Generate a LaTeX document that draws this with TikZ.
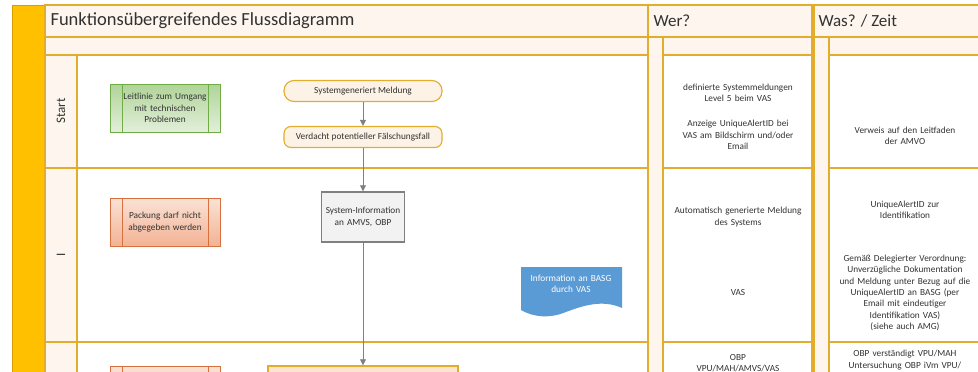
\documentclass[tikz,border=0pt]{standalone}
\usepackage{fontspec}
\setmainfont{Carlito}
\usetikzlibrary{arrows.meta, positioning, calc}
\definecolor{lanegold}{RGB}{226,172,44}
\definecolor{bandgold}{RGB}{255,192,0}
\definecolor{banddark}{RGB}{214,160,0}
\definecolor{lanecream}{RGB}{253,245,238}
\definecolor{termfill}{RGB}{253,242,230}
\definecolor{flowgray}{RGB}{128,128,128}
\definecolor{greenline}{RGB}{112,173,71}
\definecolor{greentop}{RGB}{176,212,152}
\definecolor{greenbot}{RGB}{226,239,218}
\definecolor{redline}{RGB}{214,112,62}
\definecolor{redtop}{RGB}{250,226,214}
\definecolor{redbot}{RGB}{243,178,148}
\definecolor{docblue}{RGB}{91,155,213}
\definecolor{textgray}{RGB}{50,50,50}
\definecolor{obpfill}{RGB}{252,228,208}

\tikzset{
  lanecell/.style={draw=lanegold, line width=1.1pt},
  creamcell/.style={lanecell, fill=lanecream},
  headtext/.style={anchor=west, text=textgray, font=\fontsize{17}{20}\selectfont},
  smalltext/.style={font=\fontsize{9.3}{11.3}\selectfont, text=textgray, align=center},
  celltext/.style={smalltext, text width=150pt},
  subproc/.style={smalltext, draw=#1, line width=1pt, minimum width=110pt,
    minimum height=48pt, text width=87pt, inner sep=0pt,
    path picture={\draw[#1, line width=1pt]
      ([xshift=12pt]path picture bounding box.north west) -- ([xshift=12pt]path picture bounding box.south west)
      ([xshift=-12pt]path picture bounding box.north east) -- ([xshift=-12pt]path picture bounding box.south east);}},
  greenproc/.style={subproc=greenline, top color=greentop, bottom color=greenbot},
  redproc/.style={subproc=redline, top color=redtop, bottom color=redbot},
  terminal/.style={smalltext, draw=lanegold, fill=termfill, line width=1.1pt,
    minimum width=158pt, minimum height=21pt, inner sep=0pt},
  infobox/.style={smalltext, draw=flowgray, fill=gray!10, line width=1.4pt,
    minimum width=83pt, minimum height=50pt, text width=80pt, inner sep=0pt},
  flowarrow/.style={draw=flowgray, line width=0.8pt, -{Triangle[width=6pt,length=6pt]}}
}

\begin{document}
\begin{tikzpicture}[x=1pt, y=-1pt]
\useasboundingbox (0,0) rectangle (978,372);
\clip (0,0) rectangle (978,372);

% swimlane frame
\draw[fill=bandgold, draw=banddark, line width=1pt] (12,5) rectangle (45,390);
\draw[creamcell] (45,5) rectangle (648,37);
\draw[creamcell] (45,37) rectangle (648,55);
\foreach \ya/\yb in {55/168, 168/342, 342/390} {
  \draw[creamcell] (45,\ya) rectangle (77,\yb);
  \draw[lanecell] (77,\ya) rectangle (648,\yb);
}

% Wer? and Was? columns
\foreach \xa/\xs/\xb in {648/663/812, 814/829/990} {
  \draw[creamcell] (\xa,5) rectangle (\xb,37);
  \draw[creamcell] (\xa,37) rectangle (\xs,390);
  \draw[creamcell] (\xs,37) rectangle (\xb,55);
  \foreach \ya/\yb in {55/168, 168/342, 342/390}
    \draw[lanecell] (\xs,\ya) rectangle (\xb,\yb);
}

\node[headtext, font=\fontsize{18.5}{21}\selectfont] (title) at (47,21) {Funktionsübergreifendes Flussdiagramm};
\node[headtext] (wer) at (650,21) {Wer?};
\node[headtext] (was) at (815,21) {Was? / Zeit};
\node[smalltext, font=\fontsize{13}{15}\selectfont, rotate=90] (lanestart) at (61,111) {Start};
\node[smalltext, font=\fontsize{13}{15}\selectfont, rotate=90] (laneone) at (61,255) {I};

% flow
\node[greenproc] (leitlinie) at (165,108) {Leitlinie zum Umgang\\mit technischen\\Problemen};
\node[terminal, rounded corners=10pt] (meldung) at (363,91) {Systemgeneriert Meldung};
\node[terminal, rounded corners=7pt] (verdacht) at (363,137) {Verdacht potentieller Fälschungsfall};
\node[redproc] (packung) at (165,222) {Packung darf nicht\\abgegeben werden};
\node[infobox] (sysinfo) at (363,217) {System-Information\\an AMVS, OBP};

\fill[docblue] (521,267) -- (622,267) -- (622,308)
  .. controls (602,299) and (582,306) .. (566,312)
  .. controls (549,319) and (533,317) .. (521,310) -- cycle;
\node[smalltext, text=white, text width=98pt] (basg) at (571,284) {Information an BASG\\durch VAS};

\node[redproc, minimum height=50pt] (pruefung) at (165,391) {};
\node[smalltext, draw=lanegold, fill=obpfill, line width=1.4pt,
  minimum width=190pt, minimum height=50pt] (obpbox) at (363,391) {};

\draw[flowarrow] (meldung) -- (verdacht);
\draw[flowarrow] (verdacht) -- (sysinfo);
\draw[flowarrow] (sysinfo) -- (obpbox);

% Wer?
\node[celltext] (wer1) at (738,93) {definierte Systemmeldungen\\Level 5 beim VAS};
\node[celltext] (wer2) at (738,135) {Anzeige UniqueAlertID bei\\VAS am Bildschirm und/oder\\Email};
\node[celltext] (wer3) at (738,217) {Automatisch generierte Meldung\\des Systems};
\node[celltext] (wer4) at (738,293) {VAS};
\node[celltext] (wer5) at (738,363) {OBP\\VPU/MAH/AMVS/VAS};

% Was? / Zeit
\node[celltext] (was1) at (905,136) {Verweis auf den Leitfaden\\der AMVO};
\node[celltext] (was2) at (905,210) {UniqueAlertID zur\\Identifikation};
\node[celltext] (was3) at (905,293) {Gemäß Delegierter Verordnung:\\Unverzügliche Dokumentation\\und Meldung unter Bezug auf die\\UniqueAlertID an BASG (per\\Email mit  eindeutiger\\Identifikation VAS)\\(siehe auch AMG)};
\node[celltext] (was4) at (905,360) {OBP verständigt VPU/MAH\\Untersuchung OBP iVm VPU/};
\end{tikzpicture}
\end{document}
